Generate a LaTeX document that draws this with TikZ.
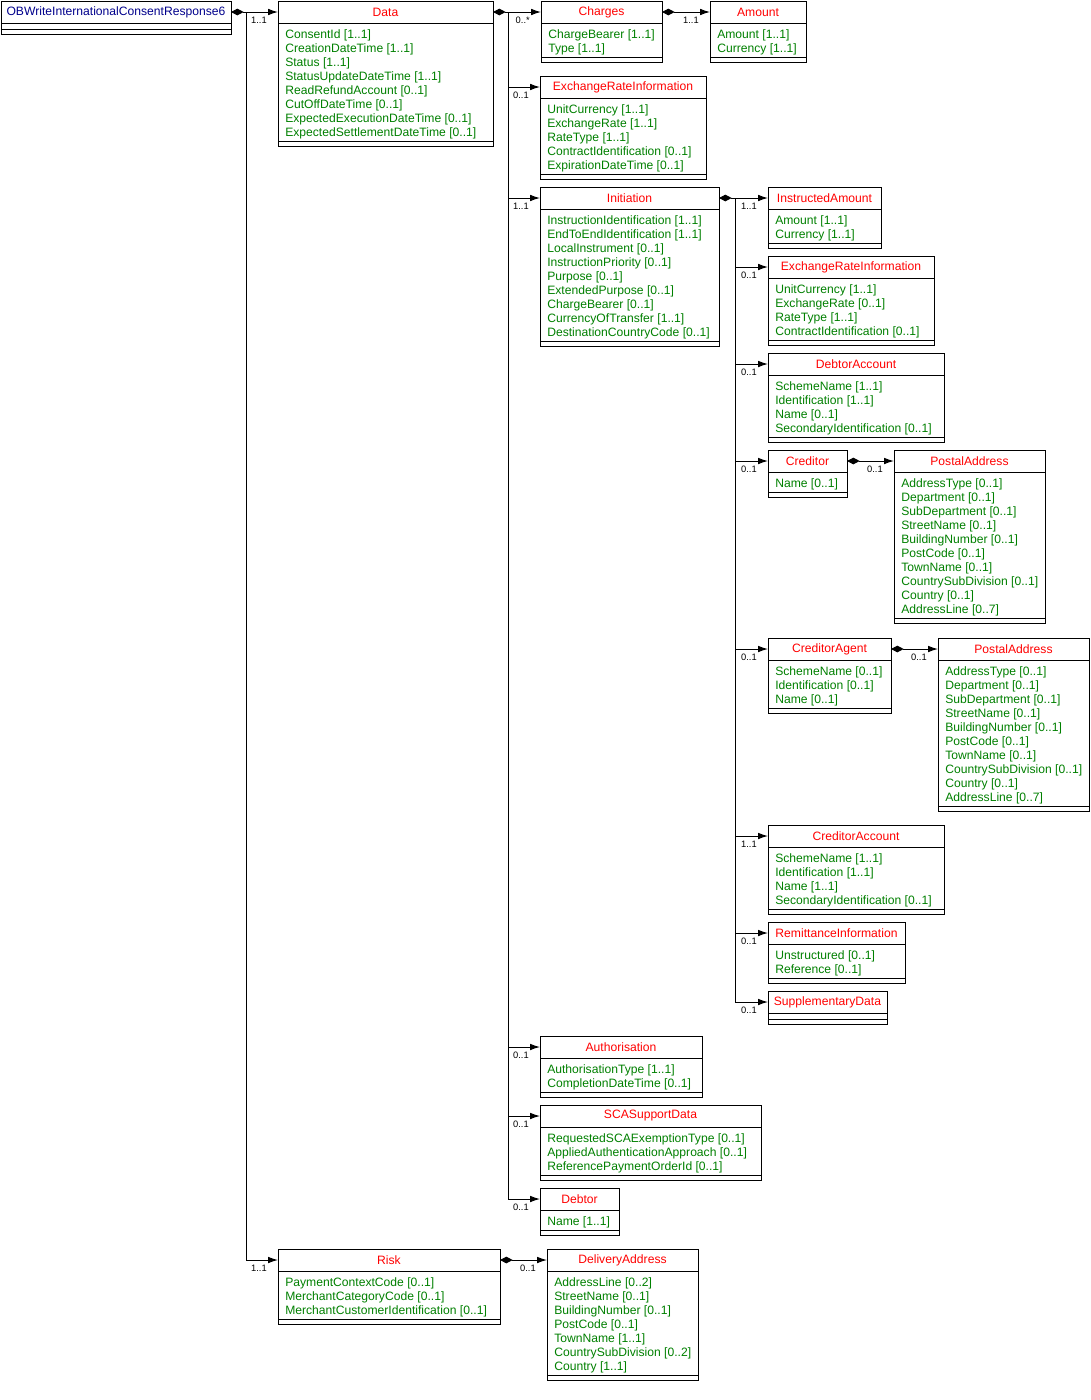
\documentclass[tikz,border=0pt]{standalone}
\usepackage{fontspec}
\setmainfont{Liberation Sans}
\usetikzlibrary{arrows.meta}
\definecolor{tred}{RGB}{255,0,0}
\definecolor{tgreen}{RGB}{0,128,0}
\definecolor{tnavy}{RGB}{0,0,140}
\tikzset{
  box/.style={draw=black,line width=0.75pt},
  title/.style={inner sep=0pt,font=\fontsize{9.1}{11}\selectfont},
  attr/.style={inner sep=0pt,anchor=base west,text=tgreen,font=\fontsize{9.1}{11}\selectfont},
  mult/.style={inner sep=0pt,anchor=north east,font=\fontsize{7}{8}\selectfont},
  arr/.style={line width=0.75pt,-{Latex[length=7.5pt,width=5pt]}},
  dia/.style={line width=0.75pt,{Diamond[length=9.5pt,width=5pt]}-},
  both/.style={line width=0.75pt,{Diamond[length=9.5pt,width=5pt]}-{Latex[length=7.5pt,width=5pt]}},
  trunk/.style={line width=0.75pt}
}
\newcommand\ent[8]{%
  \pgfmathsetmacro\eb{#4+28+14*#7}
  \draw[box] (#2,#4) rectangle (#3,\eb+5);
  \draw[box] (#2,#4+22) -- (#3,#4+22);
  \draw[box] (#2,\eb) -- (#3,\eb);
  \node[title,text=#6] (#1) at ({(#2+#3)/2},#4+11) {#5};
  \coordinate (#1-w) at (#2,#4+11);
  \coordinate (#1-e) at (#3,#4+11);
  \foreach \t [count=\i] in {#8} {\node[attr] at (#2+7,#4+23+14*\i) {\t};}
}
\newcommand\cc[3]{%
  \draw[arr] (#1 |- #2-w) -- (#2-w);
  \path (#2-w) ++(-11,5) node[mult]{#3};
}
\begin{document}
\begin{tikzpicture}[x=0.75pt,y=-0.75pt]
\useasboundingbox[fill=white] (0,0) rectangle (1090,1400);
\ent{root}{1}{231}{1}{OBWriteInternationalConsentResponse6}{tnavy}{0}{}
\ent{data}{278}{493}{1}{Data}{tred}{8}{{ConsentId [1..1]},{CreationDateTime [1..1]},{Status [1..1]},{StatusUpdateDateTime [1..1]},{ReadRefundAccount [0..1]},{CutOffDateTime [0..1]},{ExpectedExecutionDateTime [0..1]},{ExpectedSettlementDateTime [0..1]}}
\ent{risk}{278}{500}{1249}{Risk}{tred}{3}{{PaymentContextCode [0..1]},{MerchantCategoryCode [0..1]},{MerchantCustomerIdentification [0..1]}}
\ent{charges}{541}{662}{1}{Charges}{tred}{2}{{ChargeBearer [1..1]},{Type [1..1]}}
\ent{amount}{710}{806}{1}{Amount}{tred}{2}{{Amount [1..1]},{Currency [1..1]}}
\ent{xri}{540}{706}{76}{ExchangeRateInformation}{tred}{5}{{UnitCurrency [1..1]},{ExchangeRate [1..1]},{RateType [1..1]},{ContractIdentification [0..1]},{ExpirationDateTime [0..1]}}
\ent{init}{540}{719}{187}{Initiation}{tred}{9}{{InstructionIdentification [1..1]},{EndToEndIdentification [1..1]},{LocalInstrument [0..1]},{InstructionPriority [0..1]},{Purpose [0..1]},{ExtendedPurpose [0..1]},{ChargeBearer [0..1]},{CurrencyOfTransfer [1..1]},{DestinationCountryCode [0..1]}}
\ent{auth}{540}{702}{1036}{Authorisation}{tred}{2}{{AuthorisationType [1..1]},{CompletionDateTime [0..1]}}
\ent{sca}{540}{761}{1105}{SCASupportData}{tred}{3}{{RequestedSCAExemptionType [0..1]},{AppliedAuthenticationApproach [0..1]},{ReferencePaymentOrderId [0..1]}}
\ent{debtor}{540}{619}{1188}{Debtor}{tred}{1}{{Name [1..1]}}
\ent{instamt}{768}{881}{187}{InstructedAmount}{tred}{2}{{Amount [1..1]},{Currency [1..1]}}
\ent{xri2}{768}{934}{256}{ExchangeRateInformation}{tred}{4}{{UnitCurrency [1..1]},{ExchangeRate [0..1]},{RateType [1..1]},{ContractIdentification [0..1]}}
\ent{dacc}{768}{944}{353}{DebtorAccount}{tred}{4}{{SchemeName [1..1]},{Identification [1..1]},{Name [0..1]},{SecondaryIdentification [0..1]}}
\ent{cred}{768}{847}{450}{Creditor}{tred}{1}{{Name [0..1]}}
\ent{pa1}{894}{1045}{450}{PostalAddress}{tred}{10}{{AddressType [0..1]},{Department [0..1]},{SubDepartment [0..1]},{StreetName [0..1]},{BuildingNumber [0..1]},{PostCode [0..1]},{TownName [0..1]},{CountrySubDivision [0..1]},{Country [0..1]},{AddressLine [0..7]}}
\ent{cagent}{768}{891}{638}{CreditorAgent}{tred}{3}{{SchemeName [0..1]},{Identification [0..1]},{Name [0..1]}}
\ent{pa2}{938}{1089}{638}{PostalAddress}{tred}{10}{{AddressType [0..1]},{Department [0..1]},{SubDepartment [0..1]},{StreetName [0..1]},{BuildingNumber [0..1]},{PostCode [0..1]},{TownName [0..1]},{CountrySubDivision [0..1]},{Country [0..1]},{AddressLine [0..7]}}
\ent{cacc}{768}{944}{825}{CreditorAccount}{tred}{4}{{SchemeName [1..1]},{Identification [1..1]},{Name [1..1]},{SecondaryIdentification [0..1]}}
\ent{remit}{768}{905}{922}{RemittanceInformation}{tred}{2}{{Unstructured [0..1]},{Reference [0..1]}}
\ent{supp}{768}{887}{991}{SupplementaryData}{tred}{0}{}
\ent{deliv}{547}{698}{1249}{DeliveryAddress}{tred}{7}{{AddressLine [0..2]},{StreetName [0..1]},{BuildingNumber [0..1]},{PostCode [0..1]},{TownName [1..1]},{CountrySubDivision [0..2]},{Country [1..1]}}
% trunks
\coordinate (t1) at (246,12);
\coordinate (t2) at (508,12);
\coordinate (t3) at (735,198);
\draw[dia] (root-e) -- (t1);
\draw[trunk] (t1) -- (t1 |- risk-w);
\cc{t1}{data}{1..1}
\cc{t1}{risk}{1..1}
\draw[dia] (data-e) -- (t2);
\draw[trunk] (t2) -- (t2 |- debtor-w);
\cc{t2}{charges}{0..*}
\cc{t2}{xri}{0..1}
\cc{t2}{init}{1..1}
\cc{t2}{auth}{0..1}
\cc{t2}{sca}{0..1}
\cc{t2}{debtor}{0..1}
\draw[dia] (init-e) -- (t3);
\draw[trunk] (t3) -- (t3 |- supp-w);
\cc{t3}{instamt}{1..1}
\cc{t3}{xri2}{0..1}
\cc{t3}{dacc}{0..1}
\cc{t3}{cred}{0..1}
\cc{t3}{cagent}{0..1}
\cc{t3}{cacc}{1..1}
\cc{t3}{remit}{0..1}
\cc{t3}{supp}{0..1}
% direct
\draw[both] (charges-e) -- (amount-w);
\path (amount-w) ++(-11,5) node[mult]{1..1};
\draw[both] (cred-e) -- (pa1-w);
\path (pa1-w) ++(-11,5) node[mult]{0..1};
\draw[both] (cagent-e) -- (pa2-w);
\path (pa2-w) ++(-11,5) node[mult]{0..1};
\draw[both] (risk-e) -- (deliv-w);
\path (deliv-w) ++(-11,5) node[mult]{0..1};
\end{tikzpicture}
\end{document}
